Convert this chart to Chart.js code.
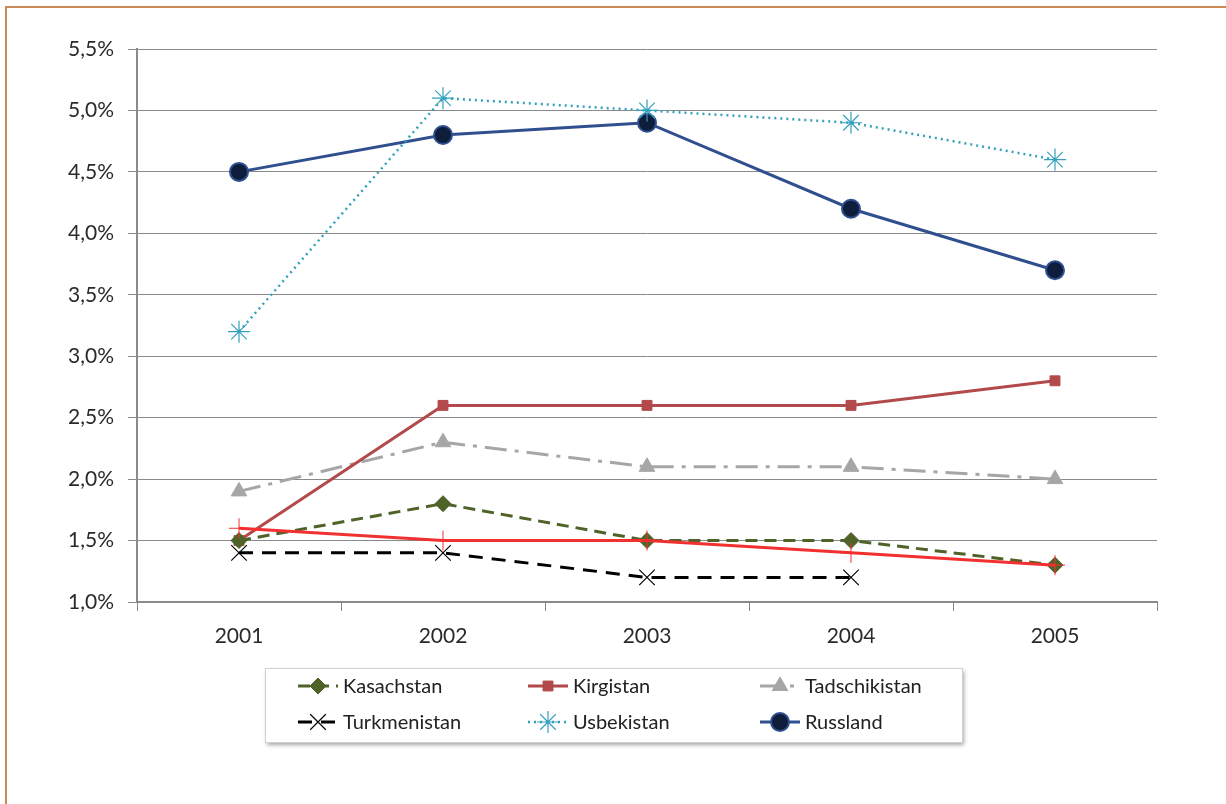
<!DOCTYPE html>
<html>
<head>
<meta charset="utf-8">
<script src="https://cdn.jsdelivr.net/npm/chart.js@4/dist/chart.umd.min.js"></script>
<style>
  html, body { margin: 0; padding: 0; background: #fff; }
  #wrap { position: relative; width: 1226px; height: 804px; }
  #frame { position: absolute; left: 5px; top: 6px; width: 1219px; height: 810px;
           border-top: 2px solid #c98a58; border-left: 2px solid #c98a58; border-right: 1px solid #e4e4e4; }
  canvas { position: absolute; left: 0; top: 0; }
</style>
</head>
<body>
<div id="wrap">
  <div id="frame"></div>
  <canvas id="c" width="1226" height="804"></canvas>
</div>
<script>
// Jahre und Werte (in Prozent)
const years = ["2001", "2002", "2003", "2004", "2005"];
const kasachstan = [1.5, 1.8, 1.5, 1.5, 1.3];
const kirgistan = [1.5, 2.6, 2.6, 2.6, 2.8];
const tadschikistan = [1.9, 2.3, 2.1, 2.1, 2.0];
const turkmenistan = [1.4, 1.4, 1.2, 1.2, null];
const usbekistan = [3.2, 5.1, 5.0, 4.9, 4.6];
const russland = [4.5, 4.8, 4.9, 4.2, 3.7];
const trend = [1.6, 1.5, 1.5, 1.4, 1.3]; // rote Linie ohne Legende
const yTicks = [1.0, 1.5, 2.0, 2.5, 3.0, 3.5, 4.0, 4.5, 5.0, 5.5];

const FONT = "Lato";

// custom legend box, 3 columns x 2 rows
const boxLegend = {
  id: "boxLegend",
  afterDraw(chart) {
    const ctx = chart.ctx;
    const x0 = 265, y0 = 668, w = 697, h = 74;
    ctx.save();
    ctx.shadowColor = "rgba(0,0,0,0.35)";
    ctx.shadowBlur = 4;
    ctx.shadowOffsetX = 2;
    ctx.shadowOffsetY = 3;
    ctx.fillStyle = "#fff";
    ctx.fillRect(x0, y0, w, h);
    ctx.restore();
    ctx.save();
    ctx.strokeStyle = "#d0d0d0";
    ctx.lineWidth = 1;
    ctx.strokeRect(x0 + 0.5, y0 + 0.5, w, h);
    const cols = [298, 528, 760];
    const rows = [686, 722];
    chart.data.datasets.forEach((ds, i) => {
      if (ds.hideLegend) return;
      const x = cols[i % 3], y = rows[Math.floor(i / 3)];
      ctx.strokeStyle = ds.borderColor;
      ctx.lineWidth = ds.borderWidth;
      ctx.setLineDash(ds.borderDash || []);
      ctx.beginPath();
      ctx.moveTo(x, y);
      ctx.lineTo(x + 40, y);
      ctx.stroke();
      ctx.setLineDash([]);
      ctx.fillStyle = ds.pointBackgroundColor;
      ctx.strokeStyle = ds.pointBorderColor;
      ctx.lineWidth = ds.pointBorderWidth;
      Chart.helpers.drawPoint(ctx, {
        pointStyle: ds.pointStyle,
        radius: ds.pointRadius,
        rotation: 0,
        borderWidth: ds.pointBorderWidth
      }, x + 20, y);
      ctx.fillStyle = "#222";
      ctx.font = "20px " + FONT;
      ctx.textBaseline = "middle";
      ctx.fillText(ds.label, x + 45, y + 1);
    });
    ctx.restore();
  }
};

function ds(label, data, color, opts) {
  return Object.assign({
    label: label,
    data: data,
    borderColor: color,
    backgroundColor: color,
    pointBackgroundColor: color,
    pointBorderColor: color,
    borderWidth: 3,
    pointBorderWidth: 1,
    tension: 0,
    fill: false,
    spanGaps: false
  }, opts);
}

const datasets = [
  ds("Kasachstan", kasachstan, "#4f6228", { borderDash: [12, 7], pointStyle: "rectRot", pointRadius: 8 }),
  ds("Kirgistan", kirgistan, "#b2494a", { pointStyle: "rect", pointRadius: 7 }),
  ds("Tadschikistan", tadschikistan, "#a6a6a6", { borderDash: [22, 8, 4, 8], pointStyle: "triangle", pointRadius: 9 }),
  ds("Turkmenistan", turkmenistan, "#000000", { borderDash: [14, 9], pointStyle: "crossRot", pointRadius: 11, pointBorderWidth: 1.2 }),
  ds("Usbekistan", usbekistan, "#33a1bd", { borderWidth: 2.5, borderDash: [2, 4], pointStyle: "star", pointRadius: 11, pointBorderWidth: 1.2 }),
  ds("Russland", russland, "#2f4f8f", { pointStyle: "circle", pointRadius: 9, pointBackgroundColor: "#0f1d3c", pointBorderColor: "#2f4f8f", pointBorderWidth: 2 }),
  // red line is drawn on top of the others
  ds("Trend", trend, "#f23030", { pointStyle: "cross", pointRadius: 10, pointBorderWidth: 1, hideLegend: true, order: -1 })
];

new Chart(document.getElementById("c").getContext("2d"), {
  type: "line",
  data: { labels: years, datasets: datasets },
  options: {
    responsive: false,
    animation: false,
    layout: { padding: { top: 49, right: 69, left: 0, bottom: 0 } },
    plugins: { legend: { display: false }, tooltip: { enabled: false } },
    scales: {
      x: {
        offset: true,
        grid: { offset: true, drawOnChartArea: false, drawTicks: true, tickLength: 9, color: "#8a8a8a", lineWidth: 1 },
        border: { color: "#8a8a8a", width: 2 },
        ticks: { color: "#2a2a2a", font: { family: FONT, size: 21 }, padding: 13 },
        afterFit(s) { s.height = 202; }
      },
      y: {
        min: 1, max: 5.5,
        afterBuildTicks(s) { s.ticks = yTicks.map(v => ({ value: v })); },
        grid: { color: "#8a8a8a", lineWidth: 1, tickLength: 9 },
        border: { color: "#8a8a8a", width: 2 },
        ticks: {
          color: "#2a2a2a", font: { family: FONT, size: 21 }, padding: 14,
          callback: v => v.toFixed(1).replace(".", ",") + "%"
        },
        afterFit(s) { s.width = 137; }
      }
    }
  },
  plugins: [boxLegend]
});
</script>
</body>
</html>
